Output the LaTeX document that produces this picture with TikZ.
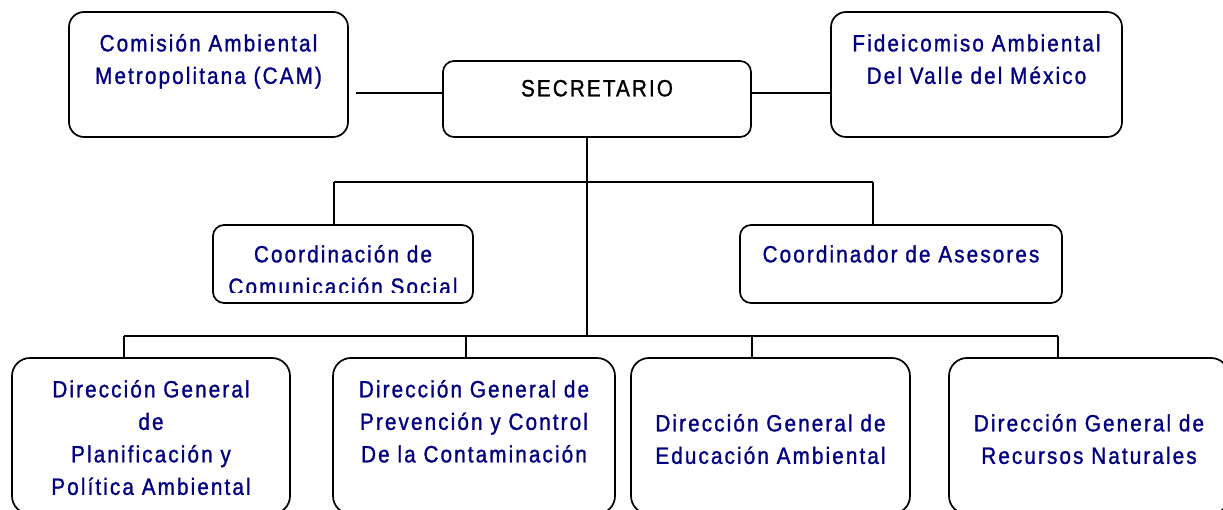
\documentclass[tikz,border=0pt]{standalone}
\usepackage{fontspec}
\newfontfamily\orgfont{Liberation Sans}[LetterSpace=9, FakeStretch=0.88, FakeBold=1.2]
\usepackage{tikz}
\usetikzlibrary{positioning}
\definecolor{navy}{RGB}{0,0,128}
\tikzset{
  unit/.style={rectangle, draw=black, line width=1.7pt, rounded corners=15pt,
               inner sep=0pt},
  unitS/.style={unit, rounded corners=11pt},
  unitL/.style={unit, rounded corners=18pt},
  txt/.style={font=\orgfont\fontsize{23.5}{32.5}\selectfont, text=navy,
              align=center, text width=300pt, text height=16pt, inner sep=0pt},
  conn/.style={line width=1.3pt, draw=black},
}
\begin{document}
\begin{tikzpicture}[x=1pt, y=-1pt]

  \clip (0,0) rectangle (1223,510);

  % boxes
  \node[unit,  minimum width=279pt, minimum height=125pt] (cam)  at (208.5,74.5) {};
  \node[unitS, minimum width=308pt, minimum height=76pt]  (sec)  at (597,99)     {};
  \node[unit,  minimum width=291pt, minimum height=125pt] (fide) at (976.5,74.5) {};
  \node[unitS, minimum width=260pt, minimum height=78pt]  (ccs)  at (343,264)    {};
  \node[unitS, minimum width=322pt, minimum height=78pt]  (ca)   at (901,264)    {};
  \node[unitL, minimum width=278pt, minimum height=156pt] (dg1)  at (151,436)    {};
  \node[unitL, minimum width=282pt, minimum height=156pt] (dg2)  at (474,436)    {};
  \node[unitL, minimum width=279pt, minimum height=156pt] (dg3)  at (770.5,436)  {};
  \node[unitL, minimum width=280pt, minimum height=156pt] (dg4)  at (1089,436)   {};

  % texts
  \node[txt, below=24pt of cam.north]  (camtxt)  {Comisión Ambiental\\Metropolitana (CAM)};
  \node[txt, text=black, below=20pt of sec.north] (sectxt) {SECRETARIO};
  \node[txt, below=24pt of fide.north] (fidetxt) {Fideicomiso Ambiental\\Del Valle del México};
  \begin{scope}
    \clip (ccs.north west) rectangle ([yshift=11pt]ccs.south east);
    \node[txt, below=22pt of ccs.north] (ccstxt) {Coordinación de\\Comunicación Social};
  \end{scope}
  \node[txt, below=22pt of ca.north]   (catxt)   {Coordinador de Asesores};
  \node[txt, below=24pt of dg1.north]  (dg1txt)  {Dirección General\\de\\Planificación y\\Política Ambiental};
  \node[txt, below=24pt of dg2.north]  (dg2txt)  {Dirección General de\\Prevención y Control\\De la Contaminación};
  \node[txt, below=58pt of dg3.north]  (dg3txt)  {Dirección General de\\Educación Ambiental};
  \node[txt, below=58pt of dg4.north]  (dg4txt)  {Dirección General de\\Recursos Naturales};

  % connectors
  \coordinate (secL) at ([yshift=6pt]sec.west);
  \coordinate (secR) at ([yshift=6pt]sec.east);
  \coordinate (busA) at (587,182);
  \coordinate (busB) at (587,336);
  \coordinate (ccsup) at (334,182);
  \coordinate (caup)  at (873,182);
  \coordinate (busL)  at (124,336);
  \coordinate (busR)  at (1058,336);

  \draw[conn, shorten >=7pt] (secL) -- (secL -| cam.east);
  \draw[conn] (secR) -- (secR -| fide.west);
  \draw[conn] (sec.south -| busB) -- (busB);
  \draw[conn] (ccsup) -- (caup);
  \draw[conn] (ccsup) -- (ccsup |- ccs.north);
  \draw[conn] (caup) -- (caup |- ca.north);
  \draw[conn] (busL) -- (busR);

  \foreach \n/\x in {dg1/124, dg2/466, dg3/752, dg4/1058}{
    \coordinate (\n up) at (\x,336);
    \draw[conn] (\n up) -- (\n up |- \n.north);
  }

\end{tikzpicture}
\end{document}
